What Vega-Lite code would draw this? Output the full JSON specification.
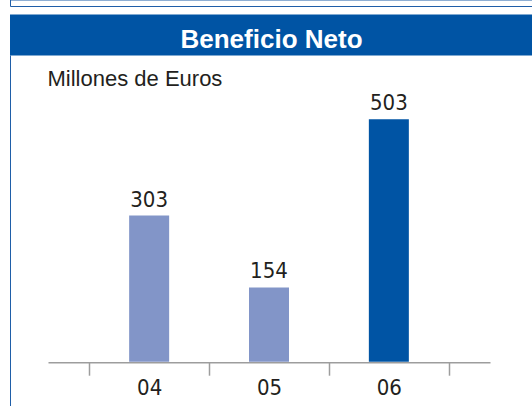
{
  "$schema": "https://vega.github.io/schema/vega-lite/v6.json",
  "padding": {"left": 9, "top": -1.5, "right": 0, "bottom": 0},
  "background": "white",
  "config": {"view": {"stroke": null}},
  "spacing": 8,
  "vconcat": [
    {
      "width": 523,
      "height": 6.5,
      "view": {"stroke": "#1f5ea8", "strokeWidth": 1, "fill": null},
      "data": {"values": [{"t": ""}]},
      "mark": {"type": "text", "fontSize": 0},
      "encoding": {"text": {"field": "t"}}
    },
    {
      "spacing": 0,
      "vconcat": [
        {
          "width": 523,
          "height": 41,
          "view": {"fill": "#0054a4", "stroke": null},
          "data": {"values": [{"titulo": "Beneficio Neto"}]},
          "mark": {"type": "text", "font": "Liberation Sans", "fontWeight": "bold", "fontSize": 26, "fill": "#ffffff", "baseline": "alphabetic", "dy": 12.5},
          "encoding": {"text": {"field": "titulo"}}
        },
        {
          "spacing": 36,
          "hconcat": [
            {
              "width": 1,
              "height": 352,
              "view": {"fill": "#1f5ea8", "stroke": null},
              "data": {"values": [{"t": ""}]},
              "mark": {"type": "text", "fontSize": 0},
              "encoding": {"text": {"field": "t"}}
            },
            {
              "width": 442,
              "height": 352,
              "data": {"values": [
                {"anio": "04", "beneficio": 303},
                {"anio": "05", "beneficio": 154},
                {"anio": "06", "beneficio": 503}
              ]},
              "encoding": {
                "x": {
                  "field": "anio", "type": "nominal", "sort": null,
                  "scale": {"paddingInner": 0, "paddingOuter": 0.344},
                  "axis": {
                    "title": null, "orient": "bottom", "offset": -45.3, "tickBand": "extent",
                    "domainColor": "#9d9d9d", "domainWidth": 1.5,
                    "tickColor": "#9d9d9d", "tickWidth": 1.5, "tickSize": 13,
                    "labelPadding": 2, "labelAngle": 0,
                    "labelFont": "DejaVu Sans Condensed, sans-serif",
                    "labelFontSize": 22, "labelColor": "#231f20", "grid": false
                  }
                },
                "y": {
                  "field": "beneficio", "type": "quantitative",
                  "scale": {"domain": [-95, 635], "nice": false, "zero": false},
                  "axis": {
                    "orient": "left", "ticks": false, "labels": false, "domain": false, "grid": false,
                    "title": "Millones de Euros", "titleAngle": 0, "titleAlign": "left",
                    "titleBaseline": "alphabetic", "titleX": -1, "titleY": 30,
                    "titleFont": "Liberation Sans", "titleFontSize": 22, "titleFontWeight": "normal",
                    "titleColor": "#231f20"
                  }
                }
              },
              "layer": [
                {
                  "mark": {"type": "bar", "size": 40},
                  "encoding": {
                    "color": {
                      "field": "anio", "type": "nominal",
                      "scale": {"domain": ["04", "05", "06"], "range": ["#8295c8", "#8295c8", "#0054a4"]},
                      "legend": null
                    }
                  }
                },
                {
                  "mark": {"type": "text", "baseline": "alphabetic", "dy": -9, "font": "DejaVu Sans Condensed, sans-serif", "fontSize": 22, "fill": "#231f20"},
                  "encoding": {"text": {"field": "beneficio", "type": "quantitative"}}
                }
              ]
            }
          ]
        }
      ]
    }
  ]
}
